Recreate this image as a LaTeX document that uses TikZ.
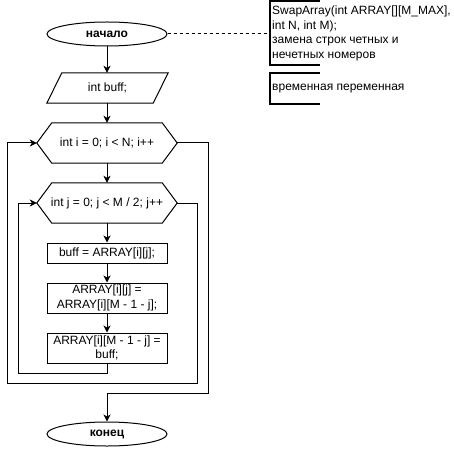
\documentclass[tikz,border=0pt]{standalone}
\usepackage{fontspec}
\setmainfont{Liberation Sans}
\usetikzlibrary{shapes.geometric,arrows.meta,calc}

% outline of a loop header (hexagon) around an invisible rectangular node
\newcommand\hexframe[1]{%
  \draw[flow] (#1.west) -- ($(#1.north west)+(15,0)$) -- ($(#1.north east)+(-15,0)$)
    -- (#1.east) -- ($(#1.south east)+(-15,0)$) -- ($(#1.south west)+(15,0)$) -- cycle;}

\begin{document}
\begin{tikzpicture}[x=1pt,y=-1pt,
  every node/.style={font=\fontsize{12}{14.4}\selectfont, inner sep=0pt},
  flow/.style={line width=1pt, draw=black},
  arr/.style={flow, -{Stealth[length=7pt,width=7pt,inset=2pt]}},
  term/.style={ellipse, draw, line width=1pt, minimum width=120pt, minimum height=24pt,
    font=\fontsize{12}{14.4}\selectfont\bfseries},
  proc/.style={rectangle, draw, line width=1pt, minimum width=120pt, align=center},
  loophead/.style={rectangle, minimum width=140pt, minimum height=40pt},
  iobox/.style={rectangle, minimum width=121pt, minimum height=30pt},
  brk/.style={line width=1.5pt, draw=black},
  note/.style={anchor=west, align=left},
]
\useasboundingbox (0,0) rectangle (453,454);

% terminals
\node[term] (start) at (107,34) {начало};
\node[term] (stop)  at (107,434) {конец};

% declaration (parallelogram)
\node[iobox] (buff) at (107.5,88) {int buff;};
\draw[flow] ($(buff.north west)+(15,0)$) -- (buff.north east)
  -- ($(buff.south east)+(-15,0)$) -- (buff.south west) -- cycle;

% loop headers
\node[loophead] (hexi) at (107,143) {int i = 0; i < N; i++};
\hexframe{hexi}
\node[loophead] (hexj) at (107,203) {int j = 0; j < M / 2; j++};
\hexframe{hexj}

% loop body
\node[proc, minimum height=20pt] (b1) at (107,253) {buff = ARRAY[i][j];};
\node[proc, minimum height=30pt] (b2) at (107,298) {ARRAY[i][j] =\\ARRAY[i][M - 1 - j];};
\node[proc, minimum height=30pt] (b3) at (107,348) {ARRAY[i][M - 1 - j] =\\buff;};

% straight flow
\draw[arr] (start.south) -- (buff.north -| start.south);
\draw[arr] (buff.south -| start.south) -- (hexi.north);
\draw[arr] (hexi.south) -- (hexj.north);
\draw[arr] (hexj.south) -- (b1.north);
\draw[arr] (b1.south) -- (b2.north);
\draw[arr] (b2.south) -- (b3.north);

% loop returns and exits
\coordinate (jl) at (18,373);
\coordinate (jr) at (197,383);
\coordinate (il) at (7,383);
\coordinate (ir) at (208,393);
\draw[arr] (b3.south) |- (jl) |- (hexj.west);
\draw[arr] (hexj.east) -| (jr) -- (il) |- (hexi.west);
\draw[arr] (hexi.east) -| (ir) -| (stop.north);

% comments
\coordinate (n1) at (270,34);
\draw[flow, dash pattern=on 3pt off 3pt] (start.east) -- (n1);
\draw[brk] (320,1) -- (270,1) -- (270,65) -- (320,65);
\node[note] (note1) at (272,33.5) {SwapArray(int ARRAY[][M\_MAX],\\int N, int M);\\замена строк четных и\\нечетных номеров};
\draw[brk] (320,73) -- (270,73) -- (270,104) -- (320,104);
\node[note] (note2) at (272,88.5) {временная переменная};
\end{tikzpicture}
\end{document}
